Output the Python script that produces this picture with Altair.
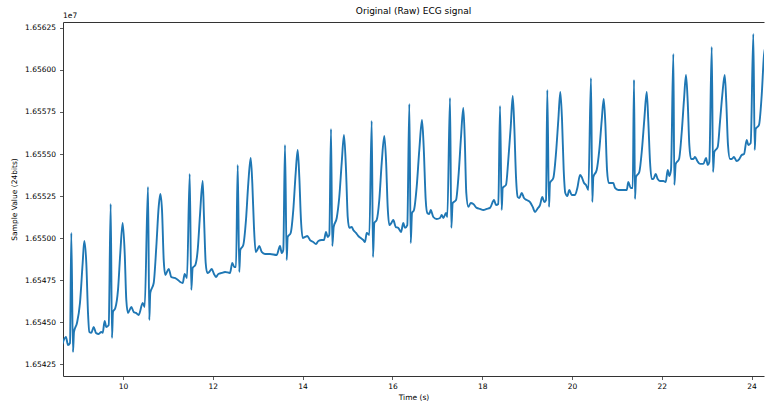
import altair as alt
import pandas as pd

# ECG trace
time_s = [
    8.641, 8.730, 8.775, 8.820, 8.849, 8.886, 8.909, 8.975, 9.042, 9.102, 9.138, 9.183, 9.221, 9.250,
    9.294, 9.347, 9.399, 9.459, 9.517, 9.548, 9.592, 9.628, 9.682,
    9.726, 9.755, 9.777, 9.829, 9.889, 9.940, 9.993, 10.038, 10.074, 10.111, 10.185, 10.238, 10.290,
    10.350, 10.439, 10.483,
    10.557, 10.586, 10.608, 10.684, 10.742, 10.795, 10.831, 10.869, 10.907, 10.942, 11.018, 11.076,
    11.151, 11.225, 11.276, 11.330, 11.374, 11.425,
    11.486, 11.521, 11.552, 11.610, 11.664, 11.715, 11.775, 11.804, 11.842, 11.877, 11.922, 11.976,
    12.027, 12.071, 12.123, 12.198, 12.272, 12.383, 12.434, 12.479, 12.517,
    12.555, 12.590, 12.613, 12.679, 12.739, 12.791, 12.844, 12.880, 12.917, 12.955, 12.991, 13.036,
    13.089, 13.163, 13.274, 13.423, 13.497, 13.535, 13.570,
    13.608, 13.646, 13.668, 13.735, 13.793, 13.846, 13.891, 13.927, 13.964, 14.002, 14.054, 14.105,
    14.165, 14.238, 14.298, 14.350, 14.425, 14.477, 14.521, 14.559, 14.595,
    14.633, 14.661, 14.693, 14.760, 14.817, 14.871, 14.922, 14.967, 15.005, 15.040, 15.094, 15.129,
    15.189, 15.241, 15.294, 15.352, 15.390, 15.428, 15.486,
    15.539, 15.568, 15.597, 15.650, 15.708, 15.762, 15.820, 15.858, 15.895, 15.931, 15.976, 16.020,
    16.074, 16.132, 16.192, 16.243, 16.281, 16.332,
    16.377, 16.408, 16.437, 16.481, 16.541, 16.599, 16.659, 16.697, 16.742, 16.777, 16.822, 16.853,
    16.911, 16.987, 17.060, 17.098, 17.134, 17.194, 17.223,
    17.283, 17.312, 17.343, 17.417, 17.477, 17.528, 17.579, 17.610, 17.646, 17.691, 17.744, 17.802,
    17.878, 17.951, 18.025, 18.100, 18.174, 18.263, 18.307, 18.359,
    18.397, 18.434, 18.457, 18.530, 18.581, 18.635, 18.680, 18.715, 18.753, 18.791, 18.827, 18.880,
    18.931, 18.991, 19.065, 19.125, 19.176, 19.228, 19.287, 19.339, 19.383, 19.421,
    19.450, 19.488, 19.510, 19.584, 19.644, 19.695, 19.740, 19.778, 19.815, 19.851, 19.896, 19.940,
    19.994, 20.067, 20.119, 20.179, 20.216, 20.268, 20.312, 20.364,
    20.423, 20.452, 20.475, 20.550, 20.608, 20.662, 20.706, 20.742, 20.780, 20.818, 20.862, 20.920,
    20.958, 21.032, 21.143, 21.219, 21.254, 21.308, 21.352,
    21.381, 21.403, 21.426, 21.499, 21.559, 21.611, 21.664, 21.700, 21.738, 21.775, 21.811, 21.864,
    21.909, 21.960, 22.034, 22.087, 22.132, 22.168, 22.205,
    22.257, 22.279, 22.310, 22.384, 22.444, 22.495, 22.539, 22.577, 22.613, 22.651, 22.702, 22.740,
    22.791, 22.851, 22.925, 22.985, 23.023, 23.058,
    23.112, 23.141, 23.170, 23.245, 23.296, 23.347, 23.401, 23.436, 23.474, 23.519, 23.557, 23.608,
    23.668, 23.726, 23.780, 23.831, 23.891, 23.927, 23.980,
    24.038, 24.069, 24.091, 24.165, 24.225, 24.276, 24.320,
]

sample_value = [
    16543630, 16544110, 16543630, 16543750, 16550300, 16543210, 16544410, 16544940, 16546130, 16548510,
    16549820, 16548510, 16545540, 16544410,
    16544350, 16544700, 16544350, 16544290, 16544410, 16544350, 16545060, 16544700, 16544820,
    16552020, 16544050, 16545600, 16545830, 16546910, 16549110, 16550890, 16549110, 16546310, 16545540,
    16545890, 16545600, 16545540, 16545420, 16546130, 16545890,
    16553040, 16545120, 16546730, 16547320, 16549470, 16551850, 16552620, 16551670, 16548690, 16547800,
    16548160, 16547680, 16547620, 16547500, 16547380, 16547320, 16547860, 16547620,
    16553810, 16546910, 16548220, 16548390, 16549290, 16551370, 16553390, 16551250, 16548510, 16547920,
    16547980, 16548160, 16547860, 16547680, 16547860, 16547920, 16547980, 16547920, 16548510, 16548270,
    16548270,
    16554350, 16547980, 16549290, 16549580, 16551070, 16553270, 16554760, 16553270, 16550660, 16549170,
    16549290, 16549520, 16549170, 16549050, 16549050, 16548990, 16549520, 16549110, 16549290,
    16555540, 16548690, 16550060, 16550300, 16551670, 16553870, 16555240, 16553630, 16551070, 16550000,
    16550060, 16550120, 16549880, 16549760, 16549640, 16549820, 16549880, 16549880, 16550360, 16550060,
    16550180,
    16556490, 16549520, 16550660, 16551190, 16552440, 16554470, 16556130, 16554050, 16551250, 16550600,
    16550660, 16550480, 16550300, 16550120, 16550000, 16549880, 16549760, 16550300, 16550180,
    16556970, 16548870, 16550890, 16551070, 16552260, 16554470, 16556070, 16554640, 16551850, 16550770,
    16550890, 16551070, 16550660, 16550600, 16550360, 16550890, 16550600, 16550770,
    16557980, 16549700, 16551490, 16551670, 16553040, 16555240, 16557020, 16555420, 16552260, 16551490,
    16551430, 16551670, 16551250, 16551130, 16551190, 16551370, 16551190, 16551490, 16551250,
    16558330, 16550600, 16552080, 16552260, 16553870, 16556010, 16557740, 16556010, 16552680, 16551850,
    16552080, 16552020, 16551790, 16551730, 16551670, 16551730, 16551790, 16552260, 16551960, 16552020,
    16557860, 16551670, 16552980, 16553160, 16554640, 16556610, 16558450, 16556610, 16553630, 16552440,
    16552380, 16552680, 16552380, 16552260, 16552140, 16551850, 16551550, 16551730, 16551960, 16552440,
    16552140, 16552260,
    16558810, 16551850, 16553270, 16553570, 16555060, 16557020, 16558690, 16557020, 16554050, 16552680,
    16552500, 16552860, 16552560, 16552560, 16552980, 16553750, 16553630, 16553270, 16553160, 16552860,
    16559520, 16552140, 16553630, 16554050, 16555240, 16557020, 16558270, 16556850, 16554050, 16553270,
    16553270, 16553270, 16552980, 16552860, 16552860, 16552860, 16553330, 16552980, 16552980,
    16559410, 16552320, 16553630, 16553930, 16555300, 16557080, 16558690, 16556910, 16554520, 16553510,
    16553510, 16553810, 16553510, 16553390, 16553390, 16553330, 16554050, 16553690, 16554050,
    16560950, 16553160, 16554410, 16554700, 16556310, 16558270, 16559700, 16558100, 16555540, 16554700,
    16554700, 16554820, 16554580, 16554410, 16554410, 16554760, 16554350, 16554520,
    16561370, 16553930, 16555120, 16555420, 16556910, 16558510, 16559700, 16558100, 16555540, 16554700,
    16554700, 16554820, 16554580, 16554700, 16554940, 16555000, 16555830, 16555540, 16555660,
    16562140, 16555240, 16556490, 16556730, 16558510, 16560890, 16561490,
]

x_ticks = [10, 12, 14, 16, 18, 20, 22, 24]
y_ticks = [16542500, 16545000, 16547500, 16550000, 16552500, 16555000, 16557500, 16560000, 16562500]
chart_title = "Original (Raw) ECG signal"
offset_text = "1e7"

df = pd.DataFrame({"t": time_s, "v": sample_value})

FONT = "DejaVu Sans"
W, H = 701, 354
x_scale = alt.Scale(domain=[8.664, 24.276], nice=False, zero=False)
y_scale = alt.Scale(domain=[16541786, 16562857], nice=False, zero=False)

y_axis = alt.Axis(values=y_ticks, labelExpr="format(datum.value / 1e7, '.5f')",
                  title="Sample Value (24bits)", grid=False, labelPadding=4, titlePadding=6)

line = alt.Chart(df).mark_line(color="#1f77b4", strokeWidth=1.9, clip=True,
                               interpolate="monotone").encode(
    x=alt.X("t:Q", scale=x_scale,
            axis=alt.Axis(values=x_ticks, format="d", title="Time (s)", grid=False,
                          labelPadding=3, titlePadding=3)),
    y=alt.Y("v:Q", scale=y_scale, axis=y_axis),
)

top_frame = alt.Chart(df).mark_point(opacity=0).encode(
    x=alt.X("t:Q", scale=x_scale,
            axis=alt.Axis(orient="top", labels=False, ticks=False, title=None, grid=False, domain=True)),
)

texts = pd.DataFrame({"label": [offset_text]})
offset_label = alt.Chart(texts).mark_text(
    align="left", baseline="bottom", fontSize=7.5, font=FONT, color="#000000"
).encode(x=alt.value(0), y=alt.value(-2), text="label:N")

title_label = alt.Chart(pd.DataFrame({"label": [chart_title]})).mark_text(
    align="center", baseline="bottom", fontSize=9, font=FONT, color="#000000"
).encode(x=alt.value(W / 2), y=alt.value(-6), text="label:N")

chart = alt.layer(line, top_frame, offset_label, title_label).resolve_axis(x="independent").properties(
    width=W,
    height=H,
    autosize="none",
    padding={"left": 63, "top": 22, "right": 1, "bottom": 29},
).configure_view(stroke=None).configure_axis(
    labelFont=FONT, titleFont=FONT, labelFontSize=7.5, titleFontSize=7.5,
    titleFontWeight="normal", labelColor="#000000", titleColor="#000000",
    domainColor="#333333", domainWidth=1, tickColor="#333333", tickSize=3.5, tickWidth=0.8,
)

chart.save("out.html", embed_options={"renderer": "svg", "actions": False})
